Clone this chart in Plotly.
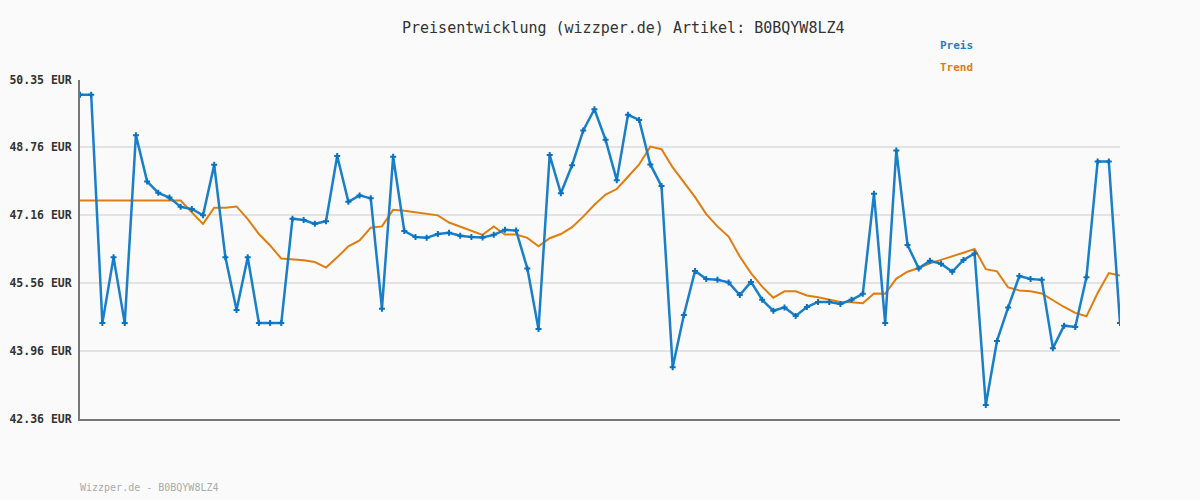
import plotly.graph_objects as go

preis = [50.00, 50.00, 44.62, 46.17, 44.62, 49.05, 47.96, 47.69, 47.58, 47.36,
         47.31, 47.16, 48.35, 46.17, 44.93, 46.17, 44.62, 44.62, 44.62, 47.08,
         47.05, 46.96, 47.02, 48.56, 47.48, 47.63, 47.56, 44.96, 48.54, 46.79,
         46.65, 46.63, 46.72, 46.75, 46.68, 46.65, 46.64, 46.70, 46.82, 46.80,
         45.91, 44.48, 48.58, 47.68, 48.34, 49.16, 49.66, 48.94, 47.99, 49.53,
         49.41, 48.36, 47.85, 43.58, 44.81, 45.85, 45.66, 45.64, 45.58, 45.28,
         45.59, 45.17, 44.91, 44.99, 44.79, 45.00, 45.12, 45.12, 45.07, 45.17,
         45.31, 47.67, 44.62, 48.69, 46.46, 45.91, 46.09, 46.02, 45.83, 46.11,
         46.26, 42.69, 44.20, 44.99, 45.73, 45.66, 45.64, 44.03, 44.56, 44.53,
         45.70, 48.43, 48.43, 44.62]

trend = [47.51, 47.51, 47.51, 47.51, 47.51, 47.51, 47.51, 47.51, 47.51, 47.51,
         47.23, 46.96, 47.34, 47.34, 47.37, 47.07, 46.72, 46.45, 46.14, 46.12,
         46.10, 46.06, 45.93, 46.17, 46.43, 46.57, 46.87, 46.90, 47.29, 47.27,
         47.23, 47.20, 47.16, 46.99, 46.89, 46.79, 46.70, 46.90, 46.71, 46.71,
         46.63, 46.43, 46.62, 46.72, 46.88, 47.13, 47.41, 47.65, 47.78, 48.07,
         48.36, 48.78, 48.72, 48.29, 47.93, 47.59, 47.19, 46.90, 46.66, 46.19,
         45.80, 45.48, 45.22, 45.37, 45.37, 45.27, 45.23, 45.18, 45.12, 45.11,
         45.09, 45.32, 45.31, 45.67, 45.83, 45.92, 46.03, 46.11, 46.19, 46.28,
         46.37, 45.89, 45.84, 45.46, 45.39, 45.37, 45.32, 45.15, 45.00, 44.86,
         44.78, 45.33, 45.80, 45.74]

tick_vals = [42.36, 43.96, 45.56, 47.16, 48.76, 50.35]
tick_text = ["42.36 EUR", "43.96 EUR", "45.56 EUR", "47.16 EUR", "48.76 EUR", "50.35 EUR"]

x = list(range(len(preis)))

BLUE = "#1a7fc9"
ORANGE = "#e07d10"
FONT = "DejaVu Sans Mono"

fig = go.Figure()
fig.add_trace(go.Scatter(x=x, y=trend, mode="lines", name="Trend",
                         line=dict(color=ORANGE, width=2)))
fig.add_trace(go.Scatter(x=x, y=preis, mode="lines+markers", name="Preis",
                         line=dict(color=BLUE, width=2.5),
                         marker=dict(symbol="cross", size=5, color="#0b72c0")))

# the page body has an 8px margin: compensate so the plot area sits at 80..1120 / 80..419
fig.update_layout(
    width=1192, height=492,
    paper_bgcolor="#fafafa", plot_bgcolor="#fafafa",
    margin=dict(l=72, r=80, t=72, b=81, autoexpand=False),
    showlegend=False,
    font=dict(family=FONT, size=11, color="#333333"),
    xaxis=dict(range=[0, len(preis) - 1], showgrid=False, zeroline=False,
               showticklabels=False, ticks="", showline=True, automargin=False,
               linecolor="#777777", linewidth=2),
    yaxis=dict(range=[tick_vals[0], tick_vals[-1]], tickvals=tick_vals,
               ticktext=tick_text, showgrid=True, gridcolor="#e3e3e3",
               gridwidth=2, zeroline=False, showline=True, automargin=False,
               linecolor="#777777", linewidth=2, ticks="", ticklabelstandoff=4,
               tickfont=dict(family=FONT, size=11.5, color="#333333", weight="bold")),
    annotations=[
        dict(text="Preisentwicklung (wizzper.de) Artikel: B0BQYW8LZ4",
             xref="paper", yref="paper", x=0.523, y=1 + 52/339,
             xanchor="center", yanchor="middle", showarrow=False,
             font=dict(family=FONT, size=15, color="#333333")),
        dict(text="<b>Preis</b>", xref="paper", yref="paper",
             x=(938-80)/1040, y=1 + 34/339, xanchor="left", yanchor="middle",
             showarrow=False, font=dict(family=FONT, size=11, color=BLUE)),
        dict(text="<b>Trend</b>", xref="paper", yref="paper",
             x=(938-80)/1040, y=1 + 13/339, xanchor="left", yanchor="middle",
             showarrow=False, font=dict(family=FONT, size=11, color=ORANGE)),
        dict(text="Wizzper.de - B0BQYW8LZ4", xref="paper", yref="paper",
             x=-2/1040, y=-68/339, xanchor="left", yanchor="middle",
             showarrow=False, font=dict(family=FONT, size=10, color="#aaaaaa")),
    ],
)

fig.write_html("out.html", post_script="document.body.style.background='#fafafa';")
